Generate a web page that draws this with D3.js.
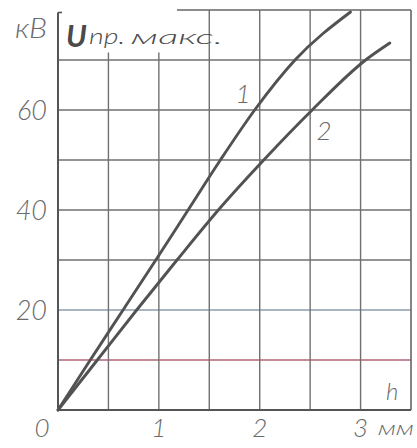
<!DOCTYPE html>
<html>
<head>
<meta charset="utf-8">
<script src="https://cdn.jsdelivr.net/npm/d3@7/dist/d3.min.js"></script>
<style>
html,body{margin:0;padding:0;background:#fff;}
svg{display:block;}
.lbl{font-family:"Lato","Liberation Sans",sans-serif;font-style:italic;font-weight:300;fill:#6a6a6a;}
.ttl{font-family:"Lato","Liberation Sans",sans-serif;font-style:italic;font-weight:300;fill:#4a4a4a;}
</style>
</head>
<body>
<svg id="c" width="417" height="448"></svg>
<script>
// ---- data ----
const xTicks = [0, 1, 2, 3];
const xTickLabels = ["0", "1", "2", "3"];
const yTicks = [20, 40, 60];
const yTickLabels = ["20", "40", "60"];
const xGrid = [0.5, 1, 1.5, 2, 2.5, 3];
const yGrid = [10, 20, 30, 40, 50, 60, 70];
const curve1 = [[0,0],[0.32,10],[0.645,20],[0.97,30],[1.29,40],[1.61,50],[1.95,60],[2.35,70],[2.90,79.6]];
const curve2 = [[0,0],[0.39,10],[0.78,20],[1.18,30],[1.59,40],[2.04,50],[2.52,60],[3.05,70],[3.29,73.4]];
const seriesNames = ["1", "2"];
const yUnit = "кВ";
const xUnit = "мм";
const xVar = "h";

// ---- drawing ----
const svg = d3.select("#c");
const x = d3.scaleLinear().domain([0, 3.5]).range([58, 411]);
const y = d3.scaleLinear().domain([0, 80]).range([410, 10]);

const g = svg.append("g");

// horizontal grid
yGrid.forEach(v => {
  let col = "#707070";
  if (v === 10) col = "#b06474";
  if (v === 20) col = "#8c9cab";
  g.append("line")
    .attr("x1", x(0)).attr("x2", x(3.5))
    .attr("y1", y(v)).attr("y2", y(v))
    .attr("stroke", col).attr("stroke-width", 1.4);
});
// vertical grid
xGrid.forEach(v => {
  const top = v <= 1 ? y(71.5) : y(80);
  g.append("line")
    .attr("x1", x(v)).attr("x2", x(v))
    .attr("y1", top).attr("y2", y(0))
    .attr("stroke", "#707070").attr("stroke-width", 1.4);
});
// frame
g.append("line").attr("x1", x(1.18)).attr("x2", x(3.5)).attr("y1", y(80)).attr("y2", y(80))
  .attr("stroke", "#666").attr("stroke-width", 1.6);
g.append("line").attr("x1", x(3.5)).attr("x2", x(3.5)).attr("y1", y(80)).attr("y2", y(0))
  .attr("stroke", "#666").attr("stroke-width", 1.6);
g.append("line").attr("x1", x(0)).attr("x2", x(0)).attr("y1", y(79.5)).attr("y2", y(0))
  .attr("stroke", "#555").attr("stroke-width", 2);
g.append("line").attr("x1", x(0)).attr("x2", x(0.04)).attr("y1", y(79.5)).attr("y2", y(79.5))
  .attr("stroke", "#555").attr("stroke-width", 1.6);
g.append("line").attr("x1", x(0)).attr("x2", x(3.5)).attr("y1", y(0)).attr("y2", y(0))
  .attr("stroke", "#555").attr("stroke-width", 2.2);

// curves
const line = d3.line().x(d => x(d[0])).y(d => y(d[1])).curve(d3.curveMonotoneX);
[curve1, curve2].forEach(c => {
  g.append("path").attr("d", line(c))
    .attr("fill", "none").attr("stroke", "#525252").attr("stroke-width", 2.9)
    .attr("stroke-linecap", "round");
});

// tick labels
yTicks.forEach((v, i) => {
  g.append("text").attr("class", "lbl")
    .attr("x", 47).attr("y", y(v) + 10)
    .attr("text-anchor", "end").attr("font-size", 27)
    .text(yTickLabels[i]);
});
xTicks.forEach((v, i) => {
  const px = v === 0 ? 42 : x(v);
  g.append("text").attr("class", "lbl")
    .attr("x", px).attr("y", 437)
    .attr("text-anchor", "middle").attr("font-size", 26)
    .text(xTickLabels[i]);
});
g.append("text").attr("class", "lbl")
  .attr("x", 378).attr("y", 435).attr("font-size", 20)
  .attr("textLength", 36).attr("lengthAdjust", "spacingAndGlyphs")
  .text(xUnit);
g.append("text").attr("class", "lbl")
  .attr("x", 386).attr("y", 400).attr("font-size", 24)
  .text(xVar);
g.append("text").attr("class", "lbl")
  .attr("x", 15).attr("y", 38).attr("font-size", 27)
  .attr("textLength", 32).attr("lengthAdjust", "spacingAndGlyphs")
  .text(yUnit);

// title
const t = g.append("text").attr("class", "ttl");
t.append("tspan").attr("x", 66).attr("y", 47).attr("font-size", 30)
  .attr("font-weight", 700).text("U");
t.append("tspan").attr("x", 89).attr("y", 44).attr("font-size", 21)
  .attr("textLength", 36).attr("lengthAdjust", "spacingAndGlyphs").text("пр.");
t.append("tspan").attr("x", 131).attr("y", 44).attr("font-size", 20)
  .attr("textLength", 92).attr("lengthAdjust", "spacingAndGlyphs").text("макс.");

// series labels
g.append("text").attr("class", "lbl").attr("x", 243).attr("y", 103)
  .attr("text-anchor", "middle").attr("font-size", 26).text(seriesNames[0]);
g.append("text").attr("class", "lbl").attr("x", 324).attr("y", 140)
  .attr("text-anchor", "middle").attr("font-size", 26).text(seriesNames[1]);
</script>
</body>
</html>
